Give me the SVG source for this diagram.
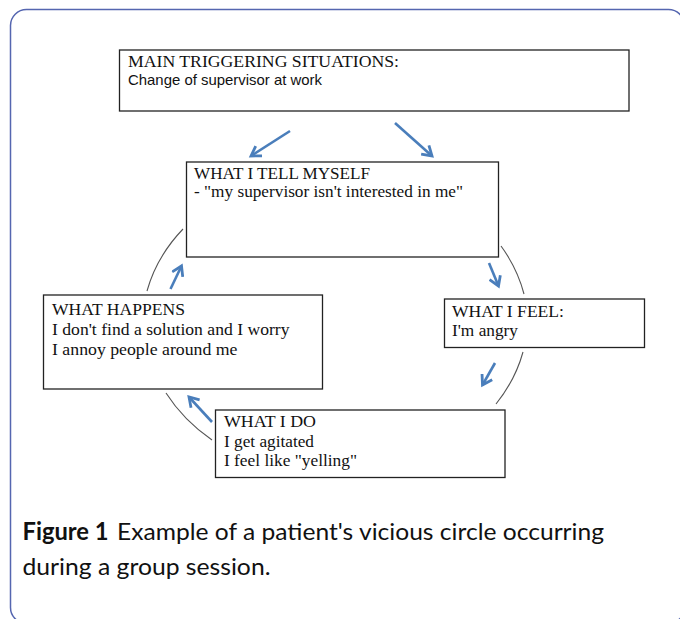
<svg xmlns="http://www.w3.org/2000/svg" width="680" height="619" viewBox="0 0 680 619">
<style>
.frame{fill:none;stroke:#5566b0;stroke-width:1.5}
.box{fill:#fff;stroke:#222;stroke-width:1.3}
.tr{font-family:"Liberation Serif","Times New Roman",serif;font-size:17px;fill:#111}
.ar{font-family:"Liberation Sans",Arial,sans-serif;font-size:14.5px;fill:#111}
.cap{font-family:Lato,"Open Sans",sans-serif;font-size:24px;fill:#111}
.arc{fill:none;stroke:#555;stroke-width:1.1}
.arr{fill:none;stroke:#4a7ebb;stroke-width:2.6;marker-end:url(#head)}
</style>
<defs>
<marker id="head" markerUnits="userSpaceOnUse" markerWidth="14" markerHeight="14" refX="8" refY="5" orient="auto" viewBox="-1 -1 11 12">
<path d="M0,0 L8,5 L0,10" fill="none" stroke="#4a7ebb" stroke-width="2.4" stroke-linejoin="miter"/>
</marker>
</defs>
<rect class="frame" x="10.5" y="9.5" width="674" height="614" rx="16"/>
<g id="node-trigger">
<rect class="box" x="119.5" y="50" width="509.5" height="61"/>
<text class="tr" x="128" y="66.5" textLength="271" lengthAdjust="spacingAndGlyphs">MAIN TRIGGERING SITUATIONS:</text>
<text class="ar" x="128" y="85" textLength="194" lengthAdjust="spacingAndGlyphs">Change of supervisor at work</text>
</g>
<g id="node-tell">
<rect class="box" x="186.5" y="162" width="312" height="95"/>
<text class="tr" x="194" y="179" textLength="176" lengthAdjust="spacingAndGlyphs">WHAT I TELL MYSELF</text>
<text class="tr" x="194" y="197" textLength="269" lengthAdjust="spacingAndGlyphs">- "my supervisor isn't interested in me"</text>
</g>
<g id="node-feel">
<rect class="box" x="444.5" y="299" width="200" height="48.5"/>
<text class="tr" x="452" y="317" textLength="112" lengthAdjust="spacingAndGlyphs">WHAT I FEEL:</text>
<text class="tr" x="452" y="335.5" textLength="66" lengthAdjust="spacingAndGlyphs">I'm angry</text>
</g>
<g id="node-happens">
<rect class="box" x="43.5" y="295" width="279" height="94"/>
<text class="tr" x="52" y="315" textLength="133" lengthAdjust="spacingAndGlyphs">WHAT HAPPENS</text>
<text class="tr" x="52" y="335" textLength="237.5" lengthAdjust="spacingAndGlyphs">I don't find a solution and I worry</text>
<text class="tr" x="52" y="354.5" textLength="185.5" lengthAdjust="spacingAndGlyphs">I annoy people around me</text>
</g>
<g id="node-do">
<rect class="box" x="215.5" y="410" width="289.5" height="67.5"/>
<text class="tr" x="224" y="427" textLength="92" lengthAdjust="spacingAndGlyphs">WHAT I DO</text>
<text class="tr" x="224" y="446.5" textLength="90" lengthAdjust="spacingAndGlyphs">I get agitated</text>
<text class="tr" x="224" y="466" textLength="133" lengthAdjust="spacingAndGlyphs">I feel like "yelling"</text>
</g>
<g id="connectors">
<path class="arc" d="M183,229 A190,157 0 0 0 147,291"/>
<path class="arc" d="M501,246 A190,157 0 0 1 524,294"/>
<path class="arc" d="M523,352 A190,157 0 0 1 496,404"/>
<path class="arc" d="M166,393 A190,157 0 0 0 212,440"/>
<line class="arr" x1="290" y1="131" x2="251" y2="156"/>
<line class="arr" x1="395" y1="123" x2="432" y2="156"/>
<line class="arr" x1="489" y1="263" x2="498.5" y2="286"/>
<line class="arr" x1="495" y1="363" x2="482.5" y2="385"/>
<line class="arr" x1="212" y1="422" x2="189" y2="397"/>
<line class="arr" x1="170.5" y1="289" x2="181.5" y2="266"/>
</g>
<g id="caption">
<text class="cap" x="22.5" y="540" font-weight="bold" textLength="86" lengthAdjust="spacingAndGlyphs">Figure 1</text>
<text class="cap" x="117" y="540" textLength="487" lengthAdjust="spacingAndGlyphs">Example of a patient's vicious circle occurring</text>
<text class="cap" x="22.5" y="575" textLength="248" lengthAdjust="spacingAndGlyphs">during a group session.</text>
</g>
</svg>
